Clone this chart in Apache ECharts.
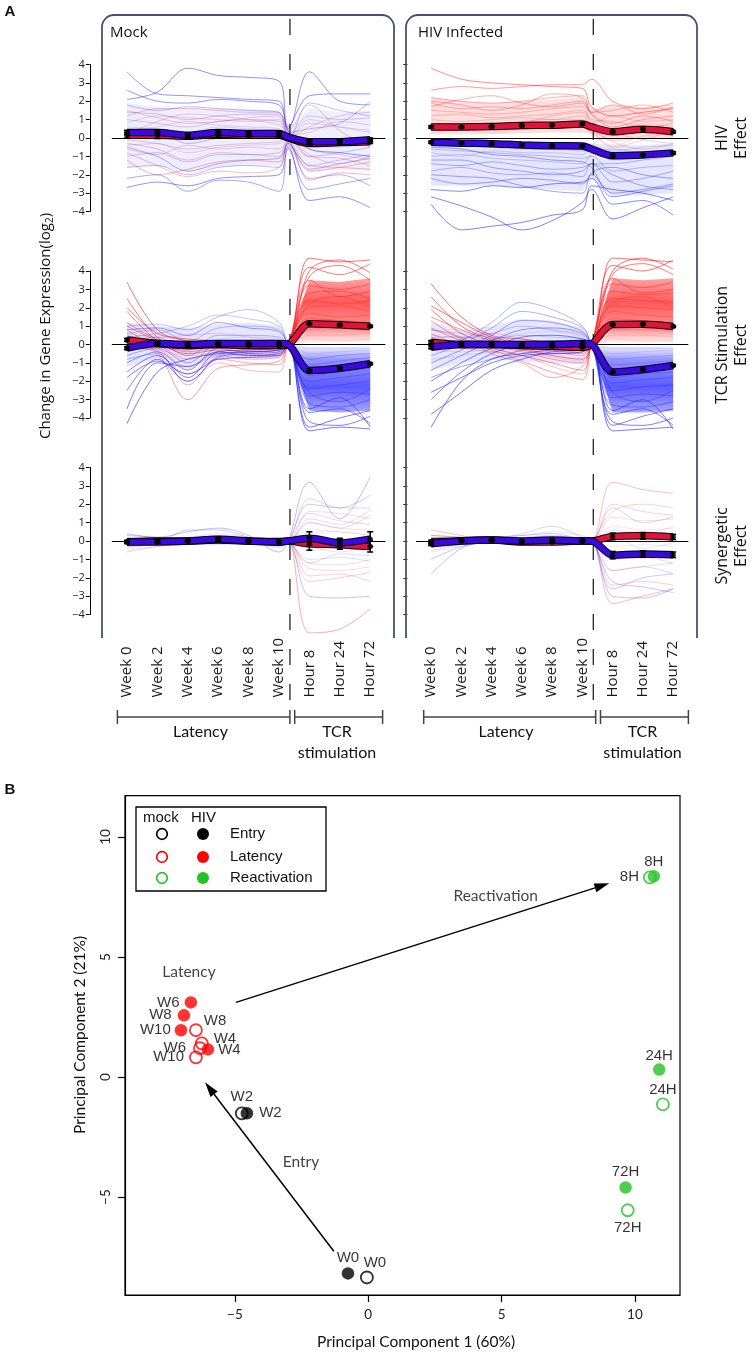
<!DOCTYPE html>
<html><head><meta charset="utf-8">
<script src="https://cdn.jsdelivr.net/npm/echarts@6/dist/echarts.min.js"></script>
<style>html,body{margin:0;padding:0;background:#fff}#c{width:753px;height:1355px}</style>
</head><body><div id="c"></div>
<script>
// ---------------- DATA: panel A ----------------
const timeLabels = ['Week 0','Week 2','Week 4','Week 6','Week 8','Week 10','Hour 8','Hour 24','Hour 72'];
// positions of the profile points: 6 weekly samples, TCR stimulation onset, 3 hourly samples
const timeIndex = [0,1,2,3,4,5,5.3,6,7,8];
const stimOnset = 5.36;
const obsIdx = [0,1,2,3,4,5,7,8,9]; // observed samples inside the 10-point profiles

// Mock, HIV effect
const mockHivRedLines = [
 [1.2,1.6,1.6,1.5,1.4,1.4,0.4,1.8,0.4,-0.5],
 [0.8,1.2,1.1,1.0,0.9,1.0,0.3,-0.6,-0.9,-1.2],
 [-0.3,-0.6,-1.2,-0.8,-0.9,-1.0,-0.3,-1.8,-1.6,-1.3],
 [-0.8,-1.5,-2.1,-1.8,-1.9,-1.6,-0.4,-1.5,-1.6,-1.7],
 [0.4,0.6,0.9,0.7,0.6,0.5,0.1,1.0,0.6,0.3],
 [-0.1,-0.3,-0.6,-0.4,-0.3,-0.2,0.0,-1.0,-1.1,-1.5],
 [1.5,1.1,0.8,0.9,1.1,1.2,0.2,0.3,0.9,0.7],
 [-1.2,-2.0,-1.7,-1.3,-1.2,-1.3,-0.3,-2.3,-1.9,-2.0],
 [0.2,0.9,1.3,1.2,1.0,0.7,0.2,-0.9,-1.4,-1.0],
 [-0.6,-0.9,-0.4,-0.6,-0.5,-0.6,-0.1,0.6,1.2,1.4]
];
const mockHivBlueLines = [
 [3.6,2.4,2.3,2.2,2.1,2.0,0.4,-0.6,-0.8,-1.0],
 [2.6,2.0,1.9,2.1,2.0,1.8,0.5,3.6,2.0,1.8],
 [1.8,1.5,1.7,1.6,1.5,1.4,0.3,0.5,0.8,2.0],
 [1.0,0.8,0.6,0.9,1.0,0.9,0.2,1.2,1.0,1.1],
 [0.6,0.5,0.3,0.6,0.5,0.4,0.1,-0.4,-0.5,-0.3],
 [-0.4,-0.3,-0.8,-0.5,-0.4,-0.3,-0.1,0.8,0.6,0.4],
 [-1.0,-0.8,-1.3,-0.9,-0.9,-0.8,-0.2,-1.5,-1.2,-0.9],
 [-1.6,-1.5,-2.0,-1.6,-1.5,-1.6,-0.3,-1.7,-1.4,-1.1],
 [-2.2,-2.0,-2.9,-2.3,-2.4,-2.9,-0.6,-2.8,-2.5,-2.2],
 [-2.7,-2.4,-2.6,-2.2,-2.1,-2.0,-0.5,-3.4,-3.2,-3.8],
 [2.1,2.5,3.8,3.4,3.3,3.1,0.6,2.3,2.4,2.4],
 [-0.5,-1.0,-1.8,-1.4,-1.2,-1.1,-0.2,-2.2,-2.0,-2.6],
 [1.4,1.3,1.0,1.2,1.3,1.3,0.3,-1.0,-0.8,-0.5],
 [0.2,0.3,-0.3,0.0,0.2,0.3,0.0,1.9,1.5,1.2]
];
const mockHivRedMean = [0.15,0.15,0.1,0.2,0.15,0.15,0.0,-0.3,-0.25,-0.2];
const mockHivBlueMean = [0.3,0.3,0.15,0.3,0.25,0.25,0.05,-0.2,-0.2,-0.1];
const mockHivRedErr = [0.15,0.18,0.08,0.15,0.08,0.08,0.12,0.12,0.1];
const mockHivBlueErr = [0.12,0.15,0.08,0.12,0.08,0.08,0.1,0.1,0.1];
const mockHivBandLow = [-1.6,-1.5,-1.9,-1.6,-1.5,-1.5,-0.5,-1.9,-1.7,-1.8];
const mockHivBandHigh = [1.9,1.7,1.6,1.6,1.6,1.5,0.5,1.6,1.4,1.5];

// HIV infected, HIV effect
const infHivRedLines = [
 [3.8,3.2,3.0,2.9,2.8,2.7,1.7,1.2,1.4,1.6],
 [2.6,2.8,2.7,2.8,2.9,2.9,3.2,2.0,1.6,1.9],
 [2.2,2.0,1.9,2.0,2.2,2.3,1.3,0.6,1.0,1.2],
 [1.9,1.6,1.7,1.6,1.8,2.0,1.4,1.5,1.8,1.4],
 [1.5,1.4,1.3,1.4,1.6,1.7,0.9,0.3,0.5,0.8],
 [1.2,1.3,1.1,1.2,1.3,1.5,1.0,0.9,0.6,0.5],
 [1.0,0.9,1.0,1.1,1.0,1.2,0.5,-0.2,-0.6,-0.3],
 [0.8,0.8,0.7,0.9,1.0,1.0,0.6,0.4,0.8,0.6],
 [0.6,0.7,0.8,0.7,0.8,0.9,0.8,1.2,0.9,1.0],
 [0.4,0.5,0.5,0.6,0.7,0.8,0.3,-0.4,0.1,0.2],
 [0.3,0.4,0.3,0.5,0.5,0.6,0.3,0.2,0.3,0.1],
 [1.7,2.1,2.3,1.9,1.7,1.9,1.4,1.8,1.3,1.7],
 [0.5,0.6,0.6,0.8,1.2,1.4,0.5,-0.5,-0.1,0.4],
 [2.0,1.8,1.5,1.8,2.4,2.2,1.3,0.8,1.2,0.9]
];
const infHivBlueLines = [
 [-0.3,-0.4,-0.5,-0.6,-0.6,-0.7,-0.7,-1.2,-1.0,-0.9],
 [-0.6,-0.7,-0.8,-0.9,-1.0,-1.1,-1.0,-1.8,-1.6,-1.5],
 [-1.0,-0.9,-1.1,-1.2,-1.3,-1.4,-0.9,-0.6,-0.8,-0.7],
 [-1.4,-1.5,-1.3,-1.5,-1.7,-1.6,-1.4,-2.4,-2.2,-1.8],
 [-1.8,-1.6,-1.9,-2.0,-1.9,-2.1,-1.4,-1.4,-1.2,-1.0],
 [-2.2,-2.5,-2.4,-2.2,-2.3,-2.5,-2.0,-3.0,-2.8,-2.5],
 [-2.8,-2.9,-2.6,-2.7,-2.5,-2.4,-2.2,-3.6,-3.4,-4.2],
 [-3.6,-5.0,-4.8,-4.6,-4.2,-3.9,-2.6,-2.8,-3.0,-3.4],
 [-3.2,-3.7,-4.3,-5.0,-4.5,-3.5,-2.8,-4.4,-3.8,-3.2],
 [-0.2,-0.3,-0.3,-0.4,-0.3,-0.4,-0.4,-0.7,-0.5,-0.4],
 [-1.2,-1.2,-1.6,-1.8,-2.0,-1.8,-1.4,-2.0,-2.6,-2.8],
 [-0.8,-1.0,-0.7,-0.8,-0.8,-0.9,-0.4,0.2,-0.1,-0.3],
 [-2.0,-2.1,-2.2,-2.6,-2.9,-3.0,-1.9,-1.6,-2.0,-2.2],
 [-0.5,-0.6,-0.9,-1.0,-1.2,-1.3,-1.6,-3.2,-2.9,-2.6]
];
const infHivRedMean = [0.6,0.6,0.62,0.68,0.7,0.76,0.6,0.34,0.47,0.34];
const infHivBlueMean = [-0.23,-0.28,-0.31,-0.38,-0.42,-0.43,-0.6,-0.96,-0.92,-0.81];
const infHivRedErr = [0.06,0.05,0.05,0.05,0.05,0.05,0.06,0.06,0.06];
const infHivBlueErr = [0.06,0.05,0.05,0.05,0.05,0.05,0.06,0.06,0.06];
const infHivRedBandNear = [0.2,0.2,0.2,0.25,0.3,0.3,0.2,-0.2,0.0,0.0];
const infHivRedBandFar = [2.2,2.0,1.9,2.0,2.1,2.2,1.6,1.8,1.7,1.8];
const infHivBlueBandNear = [-0.1,-0.1,-0.15,-0.15,-0.2,-0.2,-0.3,-0.4,-0.4,-0.3];
const infHivBlueBandFar = [-2.6,-2.6,-2.6,-2.7,-2.8,-2.9,-2.2,-3.2,-3.1,-3.0];

// Mock, TCR stimulation effect
const mockTcrRedLines = [
 [3.4,0.8,0.2,0.1,0.0,0.1,0,4.7,4.5,4.6],
 [2.5,0.4,-0.2,0.0,-0.2,-0.1,0,4.2,3.8,4.4],
 [1.8,0.2,-0.5,-0.3,-0.4,-0.3,0,3.7,4.3,3.5],
 [1.2,0.3,0.1,0.2,0.0,-0.1,0,3.2,3.0,3.3],
 [0.8,-0.1,-0.3,-0.1,-0.3,-0.2,0,2.8,2.9,2.5],
 [0.5,0.0,-0.8,-0.4,-0.6,-0.5,0,2.4,2.2,2.4],
 [0.3,-0.2,-1.2,-0.6,-0.8,-0.7,0,2.0,2.1,1.8],
 [0.2,-0.3,-2.0,-1.0,-1.4,-1.5,0,1.7,1.5,1.6],
 [0.0,-0.5,-3.0,-1.3,-1.1,-0.9,0,1.4,1.3,1.2],
 [0.6,0.4,0.5,0.6,0.4,0.2,0,1.1,1.0,1.0],
 [-0.2,-0.3,-0.6,-0.5,-0.7,-0.4,0,0.8,0.9,0.7],
 [0.1,0.1,0.0,0.2,0.1,0.0,0,0.5,0.5,0.6],
 [1.0,0.2,-0.4,-0.2,-0.5,-0.6,0,3.5,2.6,2.9],
 [0.4,-0.4,-1.6,-0.8,-1.0,-1.1,0,2.2,2.6,2.0],
 [2.0,0.6,0.3,0.2,0.1,0.0,0,4.0,4.6,3.9],
 [0.2,0.0,-0.2,0.0,-0.1,0.0,0,0.3,0.2,0.3]
];
const mockTcrBlueLines = [
 [-4.3,-1.5,-0.8,-0.5,-0.4,-0.3,0,-4.7,-4.5,-4.6],
 [-2.5,-0.8,-2.0,-0.7,-0.5,-0.4,0,-4.2,-4.4,-3.9],
 [-1.5,-0.6,-1.8,-0.4,-0.3,-0.2,0,-3.7,-3.5,-4.3],
 [-1.0,-0.4,-1.4,-0.2,-0.2,-0.1,0,-3.2,-3.4,-3.0],
 [-0.6,-0.2,-1.0,0.0,0.0,0.0,0,-2.8,-2.6,-2.7],
 [-0.3,0.0,-0.6,0.2,0.2,0.1,0,-2.4,-2.2,-2.0],
 [0.2,0.4,-0.3,0.5,0.5,0.4,0,-2.0,-1.8,-1.6],
 [0.6,0.8,0.2,0.9,1.0,0.8,0,-1.7,-1.5,-1.3],
 [1.0,1.1,0.8,1.5,1.9,1.2,0,-1.4,-1.2,-1.0],
 [0.4,0.6,1.0,1.6,1.4,1.0,0,-1.1,-0.9,-0.7],
 [-0.8,-0.5,-2.2,-0.6,-0.4,-0.3,0,-0.8,-0.6,-0.5],
 [0.0,0.1,-0.2,0.1,0.1,0.0,0,-0.5,-0.4,-0.3],
 [-3.5,-1.0,-1.2,-0.4,-0.6,-0.5,0,-3.5,-2.9,-4.5],
 [0.8,0.9,0.5,1.2,0.9,0.7,0,-2.6,-3.1,-2.4],
 [-1.8,-0.9,-1.6,-0.8,-0.7,-0.6,0,-4.5,-4.0,-3.6],
 [0.3,0.2,0.0,0.3,0.4,0.3,0,-0.2,-0.2,-0.2]
];
const mockTcrRedMean = [0.25,0.05,-0.05,0.0,-0.05,-0.05,0,1.13,1.07,0.99];
const mockTcrBlueMean = [-0.2,0.05,0.0,0.05,0.05,0.05,0,-1.41,-1.29,-1.05];
const mockTcrRedErr = [0.08,0.05,0.05,0.05,0.04,0.04,0.05,0.05,0.05];
const mockTcrBlueErr = [0.08,0.05,0.05,0.05,0.04,0.04,0.05,0.05,0.05];
const mockTcrRedBandNear = [0,0.12,0.12,0.12];
const mockTcrRedBandFar = [0,3.5,3.4,3.6];
const mockTcrBlueBandNear = [0,-0.12,-0.12,-0.12];
const mockTcrBlueBandFar = [0,-3.6,-3.7,-3.6];
const mockTcrWeekBandLow = [-1.2,-0.8,-1.4,-0.8,-0.8,-0.8,0];
const mockTcrWeekBandHigh = [1.2,1.0,0.9,1.1,1.2,1.0,0];

// HIV infected, TCR stimulation effect
const infTcrRedLines = [
 [3.3,1.5,0.5,0.3,0.1,0.0,0,4.7,4.6,4.5],
 [2.6,1.0,0.3,0.0,-0.2,-0.3,0,4.3,4.0,4.6],
 [1.9,0.6,0.0,-0.3,-0.6,-0.8,0,3.8,4.4,3.8],
 [1.3,0.3,-0.2,-0.6,-1.0,-1.4,0,3.3,3.1,3.4],
 [0.9,0.2,-0.3,-0.9,-1.5,-1.9,0,2.9,2.7,2.8],
 [0.6,0.0,-0.1,-0.4,-0.8,-1.0,0,2.5,2.4,2.3],
 [0.4,0.1,0.2,0.0,-0.3,-0.5,0,2.1,2.0,1.9],
 [0.2,-0.1,0.0,-0.2,-0.4,-0.6,0,1.8,1.6,1.5],
 [0.0,-0.2,-0.4,-0.6,-1.2,-1.6,0,1.4,1.3,1.2],
 [0.5,0.4,0.6,0.3,0.1,-0.1,0,1.1,1.0,0.9],
 [-0.3,-0.4,-0.3,-0.5,-0.7,-0.9,0,0.8,0.8,0.7],
 [0.1,0.0,0.1,0.0,-0.1,-0.2,0,0.5,0.5,0.4],
 [1.5,0.8,0.2,-0.2,-0.5,-0.4,0,3.6,2.8,3.0],
 [0.8,0.4,-0.5,-1.0,-1.8,-1.2,0,2.3,2.6,2.0],
 [2.1,1.2,0.4,0.1,0.0,0.2,0,4.0,4.7,4.1],
 [0.3,0.1,0.0,0.1,0.0,0.0,0,0.3,0.2,0.2]
];
const infTcrBlueLines = [
 [-4.5,-2.0,-0.8,-0.5,-0.3,-0.2,0,-4.7,-4.6,-4.5],
 [-3.0,-1.5,-0.5,0.0,0.2,0.1,0,-4.2,-4.4,-4.0],
 [-2.0,-1.0,-0.2,0.4,0.5,0.3,0,-3.8,-3.5,-4.4],
 [-1.4,-0.6,0.2,0.8,0.9,0.6,0,-3.3,-3.4,-3.1],
 [-1.0,-0.3,0.5,1.3,1.2,0.7,0,-2.9,-2.7,-2.8],
 [-0.6,0.0,0.9,1.8,1.5,0.9,0,-2.5,-2.3,-2.2],
 [-0.3,0.2,1.2,2.3,1.9,1.0,0,-2.1,-1.9,-1.8],
 [0.0,0.3,0.6,1.0,0.8,0.5,0,-1.8,-1.6,-1.5],
 [0.4,0.4,0.3,0.5,0.4,0.3,0,-1.4,-1.3,-1.2],
 [0.8,0.6,0.4,0.2,0.2,0.2,0,-1.1,-1.0,-0.9],
 [-0.8,-0.6,-0.4,-0.2,-0.1,0.0,0,-0.8,-0.7,-0.6],
 [-0.2,-0.1,0.0,0.1,0.1,0.0,0,-0.5,-0.4,-0.3],
 [-3.8,-2.6,-1.4,-0.8,-0.4,-0.3,0,-3.6,-3.0,-4.6],
 [-1.8,-1.2,-0.8,-0.3,0.0,-0.1,0,-2.6,-3.1,-2.5],
 [-2.6,-1.8,-1.0,-0.6,-0.5,-0.4,0,-4.4,-3.9,-3.5],
 [0.2,0.2,0.3,0.6,0.7,0.4,0,-0.2,-0.2,-0.2]
];
const infTcrRedMean = [0.13,0.0,0.0,-0.05,-0.1,-0.15,0,1.09,1.1,0.98];
const infTcrBlueMean = [-0.15,0.0,0.0,0.0,0.0,0.05,0,-1.5,-1.36,-1.14];
const infTcrRedErr = [0.08,0.05,0.05,0.05,0.04,0.04,0.05,0.05,0.05];
const infTcrBlueErr = [0.08,0.05,0.05,0.05,0.04,0.04,0.05,0.05,0.05];
const infTcrRedBandNear = [0,0.12,0.12,0.12];
const infTcrRedBandFar = [0,3.6,3.5,3.6];
const infTcrBlueBandNear = [0,-0.12,-0.12,-0.12];
const infTcrBlueBandFar = [0,-3.7,-3.7,-3.6];
const infTcrWeekBandLow = [-1.4,-1.0,-0.8,-0.9,-1.0,-1.1,0];
const infTcrWeekBandHigh = [1.2,0.8,1.0,1.4,1.3,0.9,0];

// Mock, synergetic effect
const mockSynRedLines = [
 [0.0,0.1,0.0,0.2,0.1,-0.1,0,2.3,1.8,1.8],
 [-0.2,0.0,-0.1,0.0,-0.1,0.0,0,1.6,1.5,1.2],
 [0.3,0.2,0.1,0.1,0.0,0.1,0,1.0,0.7,0.6],
 [-0.4,-0.2,-0.2,-0.1,-0.1,0.0,0,-1.5,-1.6,-1.4],
 [-0.6,-0.3,-0.1,0.1,0.0,-0.2,0,-1.9,-1.8,-2.2],
 [0.1,0.0,0.0,0.2,0.1,0.1,0,-2.2,-2.0,-1.7],
 [-0.1,-0.1,0.0,-0.1,0.0,0.0,0,-5.0,-4.8,-3.7],
 [0.2,0.1,0.0,0.1,0.1,0.2,0,0.4,0.5,0.3],
 [-0.3,-0.2,-0.1,0.0,0.0,0.1,0,-1.2,-1.3,-1.0],
 [0.0,0.2,0.1,0.3,0.2,0.0,0,1.2,0.9,1.7]
];
const mockSynBlueLines = [
 [0.4,0.2,0.5,0.7,0.3,-0.6,0,3.2,1.2,3.5],
 [0.2,0.0,0.6,0.6,0.2,-0.3,0,2.0,1.8,2.5],
 [-0.1,0.0,0.1,0.3,0.1,0.0,0,1.0,0.7,1.4],
 [-0.3,-0.2,0.0,0.0,0.0,0.1,0,-0.5,-0.4,-0.6],
 [0.1,0.1,-0.2,-0.2,0.0,0.2,0,-1.2,-0.7,-0.8],
 [-0.2,-0.1,0.0,0.1,-0.1,-0.2,0,-3.0,-3.1,-3.0],
 [0.0,0.1,0.2,0.4,0.2,-0.4,0,0.6,0.5,0.3],
 [-0.5,-0.3,-0.1,-0.1,-0.1,0.0,0,-0.3,-0.6,-0.2],
 [0.3,0.2,0.1,0.2,0.1,-0.1,0,1.5,1.1,0.9],
 [0.0,-0.1,0.1,0.2,0.0,0.2,0,-1.0,-0.9,-1.1]
];
const mockSynRedMean = [-0.05,0,0,0.05,0,-0.05,0,-0.15,-0.2,-0.3];
const mockSynBlueMean = [-0.05,-0.05,0,0.1,0,-0.05,0,0.15,-0.1,0.1];
const mockSynRedErr = [0.08,0.08,0.05,0.1,0.05,0.05,0.35,0.25,0.3];
const mockSynBlueErr = [0.08,0.08,0.05,0.1,0.05,0.05,0.35,0.25,0.4];

// HIV infected, synergetic effect
const infSynRedLines = [
 [0.6,0.3,0.0,0.0,0.1,0.1,0,3.2,2.8,2.6],
 [0.3,0.2,0.1,-0.1,0.0,0.0,0,2.0,1.6,1.4],
 [0.0,0.1,0.0,-0.2,-0.1,0.1,0,1.3,1.1,1.2],
 [-0.2,0.0,0.1,-0.1,-0.2,0.0,0,0.8,0.6,0.7],
 [0.1,0.0,0.0,0.0,0.0,0.1,0,0.4,0.5,0.3],
 [-0.1,0.0,0.0,-0.2,-0.1,0.0,0,-0.8,-0.6,-0.5],
 [0.0,0.1,0.1,0.0,0.1,0.0,0,-1.6,-1.4,-1.2],
 [0.2,0.1,0.0,-0.1,0.0,0.0,0,-3.4,-3.0,-2.6],
 [-0.3,-0.1,0.0,0.0,-0.1,0.0,0,-2.4,-2.2,-2.4],
 [0.1,0.0,-0.1,-0.2,-0.2,-0.1,0,1.6,2.0,1.8]
];
const infSynBlueLines = [
 [-1.8,-0.4,0.0,0.1,0.2,0.0,0,-3.0,-3.1,-2.6],
 [-1.0,-0.3,0.1,0.3,0.4,0.1,0,-2.2,-2.5,-2.8],
 [-0.5,-0.2,0.1,0.4,0.8,0.2,0,-1.6,-1.4,-1.8],
 [-0.3,-0.1,0.0,0.2,0.3,0.1,0,-1.0,-0.9,-1.2],
 [0.2,0.1,0.1,0.0,-0.1,0.0,0,-0.6,-0.5,-0.7],
 [0.0,0.0,0.0,0.1,0.1,0.0,0,-0.3,-0.2,-0.3],
 [-0.4,0.2,0.2,0.3,0.5,0.3,0,0.6,0.4,0.8],
 [-0.2,0.0,0.1,0.1,0.2,0.1,0,1.8,1.0,1.3],
 [0.3,0.2,0.0,-0.1,0.0,0.1,0,-2.6,-2.0,-1.8],
 [-0.6,-0.3,0.0,0.0,0.1,0.0,0,0.2,-0.4,-0.1]
];
const infSynRedMean = [-0.05,0.02,0.05,-0.05,-0.05,0,0,0.25,0.28,0.22];
const infSynBlueMean = [-0.15,0,0.05,0,0.05,0,0,-0.77,-0.71,-0.75];
const infSynRedErr = [0.1,0.04,0.04,0.04,0.04,0.04,0.18,0.18,0.14];
const infSynBlueErr = [0.1,0.04,0.04,0.04,0.04,0.04,0.2,0.18,0.15];

// ---------------- DATA: panel B (PCA) ----------------
const pcaLabels = ['W0','W2','W4','W6','W8','W10','8H','24H','72H'];
const pcaStage = ['Entry','Entry','Latency','Latency','Latency','Latency','Reactivation','Reactivation','Reactivation'];
const pc1Mock = [-0.05,-4.74,-6.24,-6.31,-6.46,-6.46,10.56,11.05,9.73];
const pc2Mock = [-8.35,-1.51,1.40,1.20,1.95,0.82,8.32,-1.14,-5.55];
const pc1HIV = [-0.76,-4.55,-6.01,-6.65,-6.91,-7.02,10.71,10.91,9.65];
const pc2HIV = [-8.18,-1.51,1.15,3.11,2.57,1.95,8.36,0.31,-4.60];
const pcaTicks = [-5,0,5,10];
const arrowEntry = [-1.29,-7.26,-6.12,-0.22];
const arrowReactivation = [-4.96,3.11,9.04,8.07];
const pcaNotes = [['Latency',-6.72,4.36],['Entry',-2.52,-3.53],['Reactivation',4.78,7.54]];

// ---------------- STYLE / LAYOUT ----------------
const FA = "'Open Sans', 'Noto Sans', sans-serif";
const FL = "Lato, 'Open Sans', sans-serif";
const FR = "'Liberation Sans', Arial, sans-serif";
const stageColor = {Entry:'#000000', Latency:'#ff0000', Reactivation:'#22c322'};
const colLayout = [{left:111.8,width:273.6},{left:416,width:272.3}];
const rowTops = [64.5,271,467.5];
const rowH = 147;
const rowAlpha = [[0.1,0.14,0.72],[0.08,0.15,0.8],[0.1,0.08,0.45]];
const minus = v => (v < 0 ? '\u2212' + Math.abs(v) : String(v));
const tcrIndex = timeIndex.slice(6);
const weekIndex = timeIndex.slice(0,7);

const panels = [
 {red:mockHivRedLines, blue:mockHivBlueLines, rm:mockHivRedMean, bm:mockHivBlueMean, re:mockHivRedErr, be:mockHivBlueErr,
  bands:[[timeIndex, mockHivBandLow, mockHivBandHigh, 'rgba(90,90,255,0.10)']]},
 {red:infHivRedLines, blue:infHivBlueLines, rm:infHivRedMean, bm:infHivBlueMean, re:infHivRedErr, be:infHivBlueErr,
  bands:[[timeIndex, infHivRedBandNear, infHivRedBandFar, 'rgba(255,50,50,0.16)'],[timeIndex, infHivBlueBandNear, infHivBlueBandFar, 'rgba(60,60,255,0.13)']]},
 {red:mockTcrRedLines, blue:mockTcrBlueLines, rm:mockTcrRedMean, bm:mockTcrBlueMean, re:mockTcrRedErr, be:mockTcrBlueErr,
  bands:[[tcrIndex, mockTcrRedBandNear, mockTcrRedBandFar, 'gradR'],[tcrIndex, mockTcrBlueBandNear, mockTcrBlueBandFar, 'gradB'],
         [weekIndex, mockTcrWeekBandLow, mockTcrWeekBandHigh, 'rgba(80,80,255,0.14)']]},
 {red:infTcrRedLines, blue:infTcrBlueLines, rm:infTcrRedMean, bm:infTcrBlueMean, re:infTcrRedErr, be:infTcrBlueErr,
  bands:[[tcrIndex, infTcrRedBandNear, infTcrRedBandFar, 'gradR'],[tcrIndex, infTcrBlueBandNear, infTcrBlueBandFar, 'gradB'],
         [weekIndex, infTcrWeekBandLow, infTcrWeekBandHigh, 'rgba(80,80,255,0.14)']]},
 {red:mockSynRedLines, blue:mockSynBlueLines, rm:mockSynRedMean, bm:mockSynBlueMean, re:mockSynRedErr, be:mockSynBlueErr},
 {red:infSynRedLines, blue:infSynBlueLines, rm:infSynRedMean, bm:infSynBlueMean, re:infSynRedErr, be:infSynBlueErr}
];

const grids = [], xAxes = [], yAxes = [], series = [];

panels.forEach((p, gi) => {
  const col = gi % 2, row = Math.floor(gi / 2);
  grids.push({left:colLayout[col].left, top:rowTops[row], width:colLayout[col].width, height:rowH});
  xAxes.push({type:'value', gridIndex:gi, min:-0.5, max:8.5, show:false});
  yAxes.push({type:'value', gridIndex:gi, min:-4, max:4, interval:1, show:col === 0, offset:22,
    axisLine:{show:true, onZero:false, lineStyle:{color:'#000', width:1}},
    axisTick:{show:true, length:4, lineStyle:{color:'#000', width:1}},
    axisLabel:{margin:5, fontFamily:FA, fontSize:11, color:'#222', formatter:minus},
    splitLine:{show:false}});
});
[4,5].forEach(g => xAxes.push({type:'category', gridIndex:g, data:timeLabels, position:'bottom', boundaryGap:true,
  axisLine:{show:false, onZero:false}, axisTick:{show:false},
  axisLabel:{interval:0, rotate:90, align:'left', margin:83, fontFamily:FA, fontSize:15, color:'#1a1a1a'}}));
[0,2,4].forEach(g => yAxes.push({type:'value', gridIndex:g, min:-4, max:4, interval:1, offset:22,
  axisLine:{show:false, onZero:false}, axisTick:{show:true, inside:true, length:4, lineStyle:{color:'#000', width:1}},
  axisLabel:{show:false}, splitLine:{show:false}}));
[0,1].forEach(c => {
  grids.push({left:colLayout[c].left, top:15, width:colLayout[c].width, height:685});
  xAxes.push({type:'value', gridIndex:6 + c, min:-0.5, max:8.5, show:false});
  yAxes.push({type:'value', gridIndex:6 + c, min:0, max:1, show:false});
});
grids.push({left:125, top:795.7, width:555, height:499.3, show:true, borderColor:'#000', borderWidth:1.2});
xAxes.push({type:'value', gridIndex:8, min:-9.12, max:11.69, position:'bottom',
  axisLine:{show:true, onZero:false, lineStyle:{color:'#000', width:1.2}}, splitLine:{show:false},
  axisTick:{show:true, length:7, customValues:pcaTicks, lineStyle:{color:'#000', width:1.2}},
  axisLabel:{customValues:pcaTicks, formatter:minus, fontFamily:FL, fontSize:13.5, color:'#222', margin:13}});
yAxes.push({type:'value', gridIndex:8, min:-9.08, max:11.72, position:'left',
  axisLine:{show:true, onZero:false, lineStyle:{color:'#000', width:1.2}}, splitLine:{show:false},
  axisTick:{show:true, length:7, customValues:pcaTicks, lineStyle:{color:'#000', width:1.2}},
  axisLabel:{customValues:pcaTicks, formatter:minus, rotate:90, fontFamily:FL, fontSize:13.5, color:'#222', margin:12}});

function lineAlpha(vals, row){ const [a0,k,mx] = rowAlpha[row]; const m = Math.max(...vals.map(Math.abs)); return Math.min(mx, a0 + k * m); }
function thinLine(gi, vals, rgb){
  return {type:'line', xAxisIndex:gi, yAxisIndex:gi, data:timeIndex.map((t,k)=>[t, vals[k]]), smooth:0.35,
    symbol:'none', silent:true, clip:false, z:1, lineStyle:{width:0.8, color:`rgba(${rgb},${lineAlpha(vals, Math.floor(gi/2)).toFixed(3)})`}};
}
const gradStops = d => d > 0
  ? [{offset:0,color:'rgba(255,90,90,0.04)'},{offset:0.18,color:'rgba(255,40,40,0.5)'},{offset:0.5,color:'rgba(255,20,20,0.7)'},{offset:0.78,color:'rgba(255,30,30,0.42)'},{offset:1,color:'rgba(255,40,40,0.15)'}]
  : [{offset:0,color:'rgba(90,90,255,0.04)'},{offset:0.18,color:'rgba(40,40,255,0.5)'},{offset:0.5,color:'rgba(20,20,255,0.7)'},{offset:0.78,color:'rgba(30,30,255,0.42)'},{offset:1,color:'rgba(40,40,255,0.15)'}];
function bandSeries(gi, xs, near, far, fillSpec){
  const n = xs.length;
  return {type:'custom', xAxisIndex:gi, yAxisIndex:gi, z:0, silent:true, clip:false,
    dimensions:Array.from({length:3*n}, (_,i)=>'d'+i),
    data:[xs.flatMap((x,k)=>[x, near[k], far[k]])],
    renderItem:(params, api)=>{
      const top = [], bot = [];
      for (let k = 0; k < n; k++){ const x = api.value(3*k); top.push(api.coord([x, api.value(3*k+2)])); bot.push(api.coord([x, api.value(3*k+1)])); }
      let fill = fillSpec;
      if (fillSpec === 'gradR' || fillSpec === 'gradB'){
        const d = fillSpec === 'gradR' ? 1 : -1;
        const y0 = api.coord([0,0])[1], y1 = api.coord([0, 4.6*d])[1];
        fill = new echarts.graphic.LinearGradient(0, y0, 0, y1, gradStops(d), true);
      }
      return {type:'polygon', shape:{points:top.concat(bot.reverse())}, style:{fill, stroke:null}};
    }};
}
function errRender(params, api){
  const x = api.value(0), m = api.value(1), e = api.value(2);
  const t = api.coord([x, m + e]), b = api.coord([x, m - e]);
  const st = {stroke:'#000', lineWidth:1.5};
  return {type:'group', children:[
    {type:'line', shape:{x1:t[0], y1:t[1], x2:b[0], y2:b[1]}, style:st},
    {type:'line', shape:{x1:t[0]-3, y1:t[1], x2:t[0]+3, y2:t[1]}, style:st},
    {type:'line', shape:{x1:b[0]-3, y1:b[1], x2:b[0]+3, y2:b[1]}, style:st}]};
}

panels.forEach((p, gi) => {
  const ax = {xAxisIndex:gi, yAxisIndex:gi};
  (p.bands || []).forEach(([xs, near, far, fill]) => series.push(bandSeries(gi, xs, near, far, fill)));
  p.red.forEach(v => series.push(thinLine(gi, v, '255,25,25')));
  p.blue.forEach(v => series.push(thinLine(gi, v, '35,35,255')));
  series.push({type:'line', ...ax, data:[], silent:true, z:3,
    markLine:{silent:true, symbol:'none', label:{show:false}, animation:false, lineStyle:{color:'#000', width:1, type:'solid'}, data:[{yAxis:0}]}});
  [[p.rm, '#e3123c', 5], [p.bm, '#3a08e0', 7]].forEach(([m, col, z]) => {
    const d = timeIndex.map((t,k)=>[t, m[k]]);
    series.push({type:'line', ...ax, data:d, smooth:0.3, symbol:'none', silent:true, clip:false, z:z, lineStyle:{width:7.5, color:'#000'}});
    series.push({type:'line', ...ax, data:d, smooth:0.3, symbol:'none', silent:true, clip:false, z:z+1, lineStyle:{width:5.5, color:col}});
  });
  [[p.rm, p.re], [p.bm, p.be]].forEach(([m, e]) => {
    series.push({type:'custom', ...ax, z:10, silent:true, clip:false,
      data:obsIdx.map((k,i)=>[timeIndex[k], m[k], e[i]]), encode:{x:0, y:1}, renderItem:errRender});
    series.push({type:'scatter', ...ax, z:11, silent:true, symbol:'circle', symbolSize:5.5,
      itemStyle:{color:'#000'}, data:obsIdx.map(k=>[timeIndex[k], m[k]])});
  });
});

[0,1].forEach(c => series.push({type:'line', xAxisIndex:8 + c, yAxisIndex:9 + c, data:[[stimOnset,0],[stimOnset,1]],
  symbol:'none', silent:true, z:4, lineStyle:{color:'#222', width:1.3, type:[16,19]}}));

// PCA
const mockLabelPos = {W0:{position:'top',distance:0,offset:[8,0]}, W2:{position:'top',distance:2}, W4:{position:'right',distance:5,offset:[0,-5]},
  W6:{position:'left',distance:7}, W8:{position:'right',distance:1,offset:[0,-9]}, W10:{position:'left',distance:5},
  '8H':{position:'left',distance:4}, '24H':{position:'top',distance:0}, '72H':{position:'bottom',distance:3}};
const hivLabelPos = {W0:{position:'top',distance:2}, W2:{position:'right',distance:6}, W4:{position:'right',distance:4},
  W6:{position:'left',distance:5}, W8:{position:'left',distance:6}, W10:{position:'left',distance:4},
  '8H':{position:'top',distance:1}, '24H':{position:'top',distance:0}, '72H':{position:'top',distance:2}};
const ptLabel = {show:true, fontFamily:FR, fontSize:15, color:'#000'};
series.push({type:'custom', xAxisIndex:10, yAxisIndex:11, z:5, silent:true,
  data:[arrowEntry, arrowReactivation], encode:{x:[0,2], y:[1,3]},
  renderItem:(params, api)=>{
    const a = api.coord([api.value(0), api.value(1)]), b = api.coord([api.value(2), api.value(3)]);
    const dx = b[0]-a[0], dy = b[1]-a[1], L = Math.hypot(dx,dy), ux = dx/L, uy = dy/L;
    const hl = 15, hw = 4.5, bx = b[0]-ux*hl, by = b[1]-uy*hl;
    return {type:'group', children:[
      {type:'line', shape:{x1:a[0], y1:a[1], x2:bx, y2:by}, style:{stroke:'#000', lineWidth:1.5}},
      {type:'polygon', shape:{points:[[b[0],b[1]],[bx-uy*hw, by+ux*hw],[bx+uy*hw, by-ux*hw]]}, style:{fill:'#000'}}]};
  }});
series.push({type:'scatter', xAxisIndex:10, yAxisIndex:11, z:6, symbol:'circle', symbolSize:12, silent:true,
  data:pcaLabels.map((l,i)=>({name:l, value:[pc1Mock[i], pc2Mock[i]],
    itemStyle:{color:'rgba(255,255,255,0)', borderColor:stageColor[pcaStage[i]], borderWidth:1.8},
    label:Object.assign({}, ptLabel, {formatter:l}, mockLabelPos[l])}))});
series.push({type:'scatter', xAxisIndex:10, yAxisIndex:11, z:7, symbol:'circle', symbolSize:12.5, silent:true,
  data:pcaLabels.map((l,i)=>({name:l, value:[pc1HIV[i], pc2HIV[i]],
    itemStyle:{color:stageColor[pcaStage[i]]},
    label:Object.assign({}, ptLabel, {formatter:l}, hivLabelPos[l])}))});
series.push({type:'scatter', xAxisIndex:10, yAxisIndex:11, z:7, symbolSize:1, silent:true, itemStyle:{color:'rgba(0,0,0,0)'},
  data:pcaNotes.map(n=>({name:n[0], value:[n[1], n[2]]})),
  label:{show:true, position:'inside', formatter:'{b}', fontFamily:FL, fontSize:15.5, color:'#111'}});

// ---------------- decorations ----------------
const G = [];
const T = (x, y, text, font, rot, extra) => G.push({type:'text', x, y, rotation:rot || 0, z:50,
  style:Object.assign({text, font, fill:'#111', align:'center', verticalAlign:'middle', textAlign:'center', textVerticalAlign:'middle'}, extra || {})});
const P = (pts, w, col, z) => G.push({type:'polyline', z:z || 40, shape:{points:pts}, style:{stroke:col || '#444', lineWidth:w || 1.5, fill:null}});
const ARC = (cx, cy, r, s, e, col, w) => G.push({type:'arc', z:40, shape:{cx, cy, r, startAngle:s, endAngle:e, clockwise:true}, style:{stroke:col, lineWidth:w, fill:null}});
const TL = (x, y, text, font) => G.push({type:'text', x, y, z:50, style:{text, font, fill:'#111', align:'left', verticalAlign:'middle', textAlign:'left', textVerticalAlign:'middle'}});

T(10, 11.5, 'A', "bold 15px 'Liberation Sans', Arial");
T(10, 790, 'B', "bold 15px 'Liberation Sans', Arial");
[[102,394],[406,697]].forEach(([l,r]) => {
  const t = 15, b = 638, rd = 12, col = '#4d4d75', w = 1.8;
  P([[l,b],[l,t+rd]], w, col); P([[l+rd,t],[r-rd,t]], w, col); P([[r,t+rd],[r,b]], w, col);
  ARC(l+rd, t+rd, rd, Math.PI, Math.PI*1.5, col, w); ARC(r-rd, t+rd, rd, Math.PI*1.5, Math.PI*2, col, w);
});
TL(110, 33, 'Mock', "15px 'Open Sans'");
TL(418, 33, 'HIV Infected', "15px 'Open Sans'");
T(732, 138, 'HIV\nEffect', "16px 'Open Sans'", Math.PI/2, {lineHeight:19});
T(732, 345, 'TCR Stimulation\nEffect', "16px 'Open Sans'", Math.PI/2, {lineHeight:19});
T(732, 546, 'Synergetic\nEffect', "16px 'Open Sans'", Math.PI/2, {lineHeight:19});
T(46, 326, 'Change in Gene Expression(log{s|2})', "15px 'Open Sans'", Math.PI/2,
  {rich:{s:{fontSize:10, fontFamily:'Open Sans', fill:'#111', padding:[8,0,0,0]}}});
[[117.4,289.9],[294.7,382.6],[423.7,595.7],[600.5,688.4]].forEach(([a,b]) => {
  P([[a,710],[a,724]], 1.5); P([[a,717],[b,717]], 1.5); P([[b,710],[b,724]], 1.5);
});
T(200.5, 732, 'Latency', "16px Lato");
T(337, 742, 'TCR\nstimulation', "16px Lato", 0, {lineHeight:21});
T(506, 732, 'Latency', "16px Lato");
T(642.5, 742, 'TCR\nstimulation', "16px Lato", 0, {lineHeight:21});
T(416, 1342, 'Principal Component 1 (60%)', "15.5px Lato");
T(80, 1035, 'Principal Component 2 (21%)', "15.5px Lato", Math.PI/2);
G.push({type:'rect', z:40, shape:{x:136, y:807, width:190, height:84}, style:{stroke:'#000', lineWidth:1.3, fill:'#fff'}});
TL(143, 818, 'mock', "15px 'Liberation Sans'");
TL(191, 818, 'HIV', "15px 'Liberation Sans'");
[['Entry',834],['Latency',857],['Reactivation',878]].forEach(([s,y]) => {
  G.push({type:'circle', z:45, shape:{cx:162, cy:y, r:5.3}, style:{stroke:stageColor[s], lineWidth:1.7, fill:null}});
  G.push({type:'circle', z:45, shape:{cx:203, cy:y, r:6}, style:{fill:stageColor[s]}});
  TL(230, y, s, "15px 'Liberation Sans'");
});

const chart = echarts.init(document.getElementById('c'), null, {renderer:'canvas', width:753, height:1355});
chart.setOption({animation:false, backgroundColor:'#fff', grid:grids, xAxis:xAxes, yAxis:yAxes, series, graphic:{elements:G}});
</script></body></html>
